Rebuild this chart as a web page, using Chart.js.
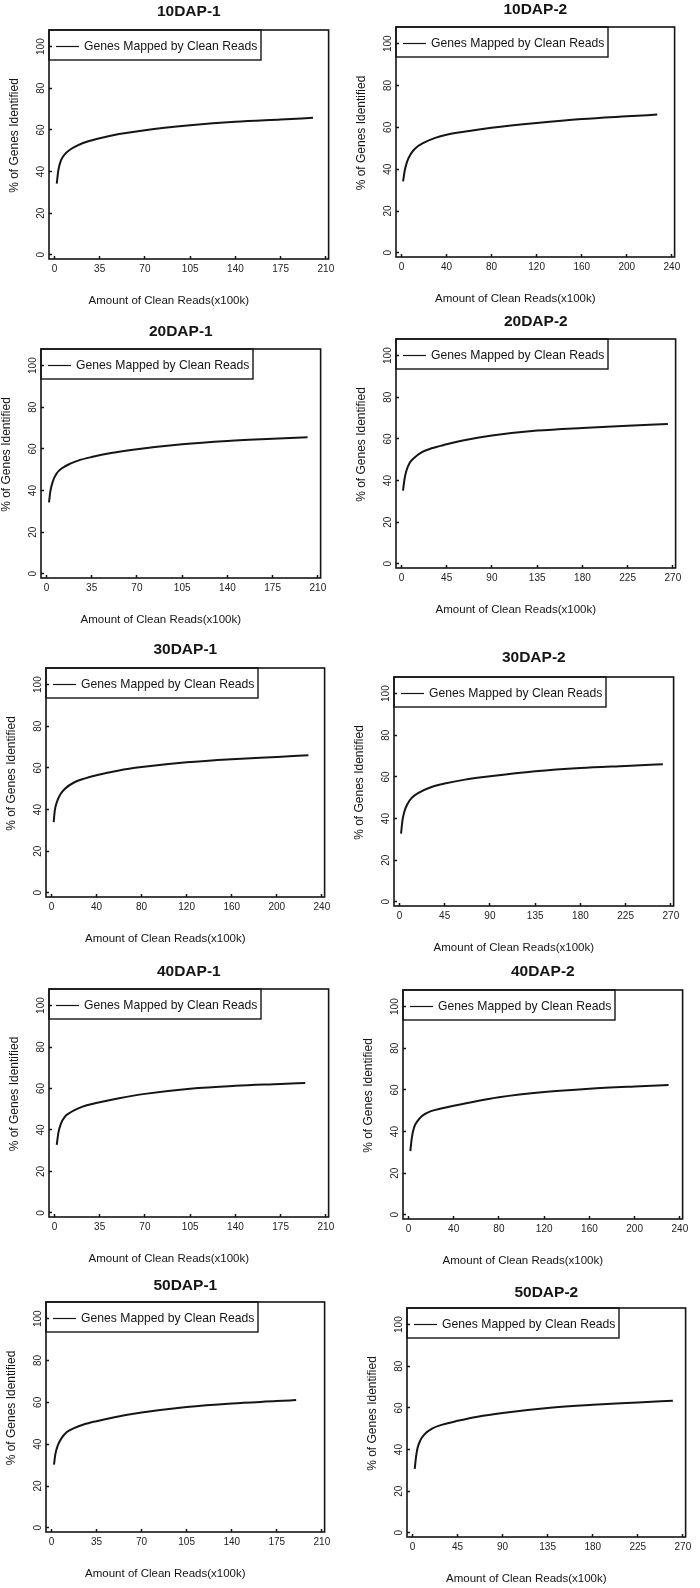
<!DOCTYPE html>
<html>
<head>
<meta charset="utf-8">
<script src="https://cdn.jsdelivr.net/npm/chart.js@4.4.0/dist/chart.umd.min.js"></script>
<style>
  html, body { margin: 0; padding: 0; background: #fff; }
  body { position: relative; width: 700px; height: 1588px; overflow: hidden; }
  canvas { position: absolute; }
</style>
</head>
<body>
<script>
// panel titles
const panelTitles = ['10DAP-1', '10DAP-2', '20DAP-1', '20DAP-2', '30DAP-1', '30DAP-2', '40DAP-1', '40DAP-2', '50DAP-1', '50DAP-2'];

// tick labels
const xTicks35 = [0, 35, 70, 105, 140, 175, 210];
const xTicks40 = [0, 40, 80, 120, 160, 200, 240];
const xTicks45 = [0, 45, 90, 135, 180, 225, 270];
const yTicks = [0, 20, 40, 60, 80, 100];

// clean reads (x100k) and % of genes identified
const reads10a = [1.8, 3, 5, 8, 12, 18, 25, 35, 50, 70, 105, 140, 175, 200];
const genes10a = [34.2, 40.5, 45.3, 48.3, 50.5, 52.6, 54.3, 56, 58, 59.9, 62.2, 63.9, 65, 65.8];
const reads10b = [1.5, 3, 5, 8, 12, 20, 30, 40, 60, 80, 120, 160, 200, 227];
const genes10b = [34.2, 39.5, 43.5, 47, 49.8, 52.7, 55, 56.5, 58.3, 59.8, 62.1, 64, 65.3, 66.1];
const reads20a = [2, 3, 5, 8, 12, 18, 25, 35, 50, 70, 105, 140, 175, 202];
const genes20a = [34.3, 39.5, 44.5, 48.3, 50.7, 52.8, 54.5, 56.1, 58, 59.8, 62.2, 63.8, 64.9, 65.6];
const reads20b = [1.6, 3, 5, 8, 12, 20, 30, 45, 65, 90, 135, 180, 225, 265];
const genes20b = [35.2, 40.5, 44.8, 48.3, 50.6, 53.5, 55.5, 57.4, 59.6, 61.6, 64, 65.3, 66.3, 67.2];
const reads30a = [2, 3, 5, 8, 12, 20, 30, 40, 60, 80, 120, 160, 200, 228];
const genes30a = [34, 39.5, 43.8, 47.3, 50, 53, 55, 56.5, 58.8, 60.4, 62.7, 64.2, 65.3, 66.1];
const reads30b = [1.6, 3, 5, 8, 12, 20, 30, 45, 65, 90, 135, 180, 225, 262];
const genes30b = [32.8, 39, 43.5, 47, 49.8, 52.6, 54.8, 56.8, 58.7, 60.3, 62.7, 64.3, 65.3, 66.1];
const reads40a = [1.8, 3, 5, 8, 12, 18, 25, 35, 50, 70, 105, 140, 175, 194];
const genes40a = [32.8, 38.5, 43, 46.3, 48.3, 50.3, 51.9, 53.4, 55.3, 57.4, 59.9, 61.3, 62.2, 62.7];
const reads40b = [1.7, 3, 5, 8, 12, 20, 30, 40, 60, 80, 120, 160, 200, 230];
const genes40b = [30.6, 37, 42, 45, 47.5, 49.8, 51.2, 52.4, 54.6, 56.5, 59, 60.6, 61.7, 62.4];
const reads50a = [2, 3, 5, 8, 12, 18, 25, 35, 50, 70, 105, 140, 175, 190];
const genes50a = [30.2, 35, 39.5, 43, 45.8, 47.8, 49.4, 51, 53, 55.1, 57.8, 59.5, 60.6, 61.1];
const reads50b = [2.3, 3.5, 5, 8, 12, 20, 30, 45, 65, 90, 135, 180, 225, 260];
const genes50b = [30.7, 36, 40.5, 44.5, 47.3, 50.2, 52, 53.8, 55.8, 57.6, 60, 61.5, 62.6, 63.5];

const FONT = '"Liberation Sans", Arial, Helvetica, sans-serif';
const INK = '#151515';

const panels = [
  { reads: reads10a, genes: genes10a, ticks: xTicks35 },
  { reads: reads10b, genes: genes10b, ticks: xTicks40 },
  { reads: reads20a, genes: genes20a, ticks: xTicks35 },
  { reads: reads20b, genes: genes20b, ticks: xTicks45 },
  { reads: reads30a, genes: genes30a, ticks: xTicks40 },
  { reads: reads30b, genes: genes30b, ticks: xTicks45 },
  { reads: reads40a, genes: genes40a, ticks: xTicks35 },
  { reads: reads40b, genes: genes40b, ticks: xTicks40 },
  { reads: reads50a, genes: genes50a, ticks: xTicks35 },
  { reads: reads50b, genes: genes50b, ticks: xTicks45 }
];

// plot frame in the page: left, top, right, bottom, gap to title
const frames = [
  [49, 30, 336, 259, 18],
  [396, 27, 682, 257, 17],
  [41, 349, 328, 578, 17],
  [396, 339, 683, 568, 17],
  [46, 668, 332, 897, 18],
  [394, 677, 681, 906, 19],
  [49, 989, 336, 1217, 17],
  [403, 990, 690, 1219, 18],
  [46, 1302, 332, 1532, 16],
  [407, 1308, 693, 1537, 15]
];

const decor = {
  id: 'decor',
  afterDraw(chart, args, opts) {
    const { ctx, chartArea: a } = chart;
    ctx.save();
    ctx.strokeStyle = INK;
    ctx.fillStyle = INK;

    // frame
    ctx.lineWidth = 1.6;
    ctx.strokeRect(a.left, a.top, a.right - a.left, a.bottom - a.top);

    // legend box
    ctx.lineWidth = 1.4;
    ctx.strokeRect(a.left, a.top, 212, 30);
    ctx.beginPath();
    ctx.lineWidth = 1.2;
    ctx.moveTo(a.left + 7, a.top + 16.5);
    ctx.lineTo(a.left + 30, a.top + 16.5);
    ctx.stroke();
    ctx.font = '12.2px ' + FONT;
    ctx.textBaseline = 'middle';
    ctx.textAlign = 'left';
    ctx.fillText(chart.data.datasets[0].label, a.left + 35, a.top + 16.5);

    // title
    ctx.textAlign = 'center';
    ctx.font = 'bold 15.5px ' + FONT;
    ctx.fillText(opts.title, (a.left + a.right) / 2, a.top - opts.gap);

    // axis titles
    ctx.font = '11.5px ' + FONT;
    ctx.fillText('Amount of Clean Reads(x100k)', (a.left + a.right) / 2 - 20, a.bottom + 42.3);
    ctx.translate(a.left - 34.3, (a.top + a.bottom) / 2 - 9);
    ctx.rotate(-Math.PI / 2);
    ctx.font = '12px ' + FONT;
    ctx.fillText('% of Genes Identified', 0, 0);
    ctx.restore();
  }
};

panels.forEach((p, i) => {
  const [L, T, R, B, gap] = frames[i];
  const cw = (R - L) + 56;
  const ch = (B - T) + 92;
  const canvas = document.createElement('canvas');
  canvas.width = cw;
  canvas.height = ch;
  canvas.style.left = (L - 50) + 'px';
  canvas.style.top = (T - 40) + 'px';
  canvas.style.width = cw + 'px';
  canvas.style.height = ch + 'px';
  document.body.appendChild(canvas);

  const xMax = p.ticks[p.ticks.length - 1];
  const tickFont = { family: FONT, size: 10 };

  new Chart(canvas, {
    type: 'line',
    data: {
      datasets: [{
        label: 'Genes Mapped by Clean Reads',
        data: p.reads.map((x, k) => ({ x: x, y: p.genes[k] })),
        borderColor: INK,
        borderWidth: 2,
        pointRadius: 0,
        cubicInterpolationMode: 'monotone',
        fill: false
      }]
    },
    options: {
      responsive: false,
      animation: false,
      devicePixelRatio: 1,
      layout: { padding: { left: 0, top: 40, right: 6, bottom: 2 } },
      plugins: {
        legend: { display: false },
        tooltip: { enabled: false },
        decor: { title: panelTitles[i], gap: gap }
      },
      scales: {
        x: {
          type: 'linear',
          min: -0.02 * xMax,
          max: 1.01 * xMax,
          afterBuildTicks: s => { s.ticks = p.ticks.map(v => ({ value: v })); },
          afterFit: s => { s.height = 50; },
          border: { display: false },
          grid: { drawOnChartArea: false, drawTicks: true, tickLength: -3, tickColor: INK, tickWidth: 1.5 },
          ticks: { autoSkip: false, maxRotation: 0, padding: 7.7, color: '#222', font: tickFont }
        },
        y: {
          min: -2,
          max: 108,
          afterBuildTicks: s => { s.ticks = yTicks.map(v => ({ value: v })); },
          afterFit: s => { s.width = 50; },
          border: { display: false },
          grid: { drawOnChartArea: false, drawTicks: true, tickLength: -3, tickColor: INK, tickWidth: 1.5 },
          ticks: { minRotation: 90, maxRotation: 90, crossAlign: 'center', padding: 2, color: '#222', font: tickFont }
        }
      }
    },
    plugins: [decor]
  });
});
</script>
</body>
</html>
